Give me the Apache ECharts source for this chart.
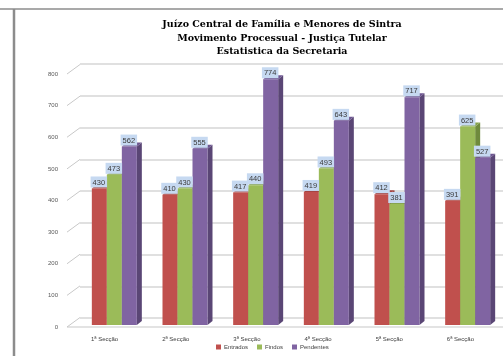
<!DOCTYPE html>
<html>
<head>
<meta charset="utf-8">
<script src="https://cdn.jsdelivr.net/npm/echarts@6/dist/echarts.min.js"></script>
<style>
  html, body { margin: 0; padding: 0; background: #ffffff; }
  #chart { width: 503px; height: 356px; }
</style>
</head>
<body>
<div id="chart"></div>
<script>
// Categories, series and axis ticks
const categories = ['1ª Secção', '2ª Secção', '3ª Secção', '4ª Secção', '5ª Secção', '6ª Secção'];
const entrados  = [430, 410, 417, 419, 412, 391];
const findos    = [473, 430, 440, 493, 381, 625];
const pendentes = [562, 555, 774, 643, 717, 527];
const seriesNames = ['Entrados', 'Findos', 'Pendentes'];
const yTicks = [0, 100, 200, 300, 400, 500, 600, 700, 800];

const FRONT = ['#c0504d', '#9bbb59', '#8064a2'];
const SIDE  = ['#8b3a38', '#6f8a3d', '#5a4675'];
const TOP   = ['#a54542', '#86a34b', '#6d5590'];

const BAR_W = 15;   // width of one bar's front face
const DEPTH_X = 5;  // 3D depth offset
const DEPTH_Y = 4;

function barRenderer(si) {
  return function (params, api) {
    const cat = api.value(0);
    const v = api.value(1);
    const top = api.coord([cat, v]);
    const base = api.coord([cat, 0]);
    const x0 = top[0] - 1.5 * BAR_W + si * BAR_W;
    const x1 = x0 + BAR_W;
    return {
      type: 'group',
      children: [
        { type: 'polygon', shape: { points: [[x1, top[1]], [x1 + DEPTH_X, top[1] - DEPTH_Y], [x1 + DEPTH_X, base[1] - DEPTH_Y], [x1, base[1]]] },
          style: { fill: SIDE[si] } },
        { type: 'polygon', shape: { points: [[x0, top[1]], [x0 + DEPTH_X, top[1] - DEPTH_Y], [x1 + DEPTH_X, top[1] - DEPTH_Y], [x1, top[1]]] },
          style: { fill: TOP[si] } },
        { type: 'rect', shape: { x: x0, y: top[1], width: BAR_W, height: base[1] - top[1] },
          style: { fill: FRONT[si] } },
        { type: 'text', z2: 100,
          style: { text: String(v), x: x0 + BAR_W / 2 - 0.5, y: top[1] - 1, align: 'center', verticalAlign: 'bottom',
                   fill: '#3a3a3a', font: '7.5px "Liberation Sans"', backgroundColor: '#c6d9f1', padding: [2, 2, 1, 2] } }
      ]
    };
  };
}

// Diagonal ticks between the value labels and the back wall, plus the floor edge
function frameRenderer(params, api) {
  const v = api.value(0);
  const p = api.coord([0, v]);
  const x = params.coordSys.x - 2;
  const y = p[1];
  const children = [
    { type: 'line', shape: { x1: x, y1: y, x2: x + 13, y2: y - 9.5 }, style: { stroke: '#c8c8c8', lineWidth: 1 } }
  ];
  if (v === 0) {
    children.push({ type: 'line', shape: { x1: x, y1: y, x2: 510, y2: y }, style: { stroke: '#c8c8c8', lineWidth: 1.2 } });
  }
  return { type: 'group', children: children };
}

const chart = echarts.init(document.getElementById('chart'), null, { renderer: 'canvas' });

const barSeries = [entrados, findos, pendentes].map(function (arr, si) {
  return {
    name: seriesNames[si],
    type: 'custom',
    xAxisIndex: 0,
    yAxisIndex: 0,
    itemStyle: { color: FRONT[si] },
    renderItem: barRenderer(si),
    data: arr.map(function (v, i) { return [i, v]; }),
    z: 3
  };
});

chart.setOption({
  animation: false,
  color: FRONT,
  title: {
    text: 'Juízo Central de Família e Menores de Sintra\nMovimento Processual - Justiça Tutelar\nEstatistica da Secretaria',
    left: 277,
    top: 13,
    textAlign: 'center',
    textStyle: { fontFamily: 'DejaVu Serif', fontWeight: 'bold', fontSize: 9.5, lineHeight: 13.5, color: '#000000' }
  },
  legend: {
    data: seriesNames,
    bottom: 1,
    left: 211,
    itemWidth: 5,
    itemHeight: 5,
    itemGap: 9,
    icon: 'rect',
    textStyle: { fontSize: 6, color: '#404040', fontFamily: 'Liberation Sans', padding: [0, 0, 0, -2] }
  },
  graphic: [
    { type: 'line', shape: { x1: 0, y1: 9, x2: 503, y2: 9 }, style: { stroke: '#8c8c8c', lineWidth: 1.5 } },
    { type: 'line', shape: { x1: 14, y1: 9, x2: 14, y2: 356 }, style: { stroke: '#8c8c8c', lineWidth: 2.5 } }
  ],
  grid: [
    // bars
    { left: 79, top: 71, width: 429, height: 254 },
    // back wall
    { left: 80, top: 64, width: 440, height: 254 },
    // front labels
    { left: 69, top: 74, width: 427, height: 253 }
  ],
  xAxis: [
    { type: 'category', gridIndex: 0, data: categories, show: false },
    { type: 'value', gridIndex: 1, show: false },
    { type: 'category', gridIndex: 2, data: categories,
      axisLine: { show: false }, axisTick: { show: false },
      axisLabel: { fontSize: 6, color: '#404040', fontFamily: 'Liberation Sans', margin: 9 } }
  ],
  yAxis: [
    { type: 'value', gridIndex: 0, min: 0, max: 800, interval: 100, show: false },
    { type: 'value', gridIndex: 1, min: 0, max: 800, interval: 100,
      axisLine: { show: false }, axisTick: { show: false }, axisLabel: { show: false },
      splitLine: { show: true, lineStyle: { color: '#d6d6d6', width: 1.5 } } },
    { type: 'value', gridIndex: 2, min: 0, max: 800, interval: 100,
      axisLine: { show: false }, axisTick: { show: false }, splitLine: { show: false },
      axisLabel: { fontSize: 6, color: '#595959', fontFamily: 'Liberation Sans', margin: 11 } }
  ],
  series: [
    {
      type: 'custom',
      xAxisIndex: 2,
      yAxisIndex: 2,
      silent: true,
      renderItem: frameRenderer,
      data: yTicks.map(function (t) { return [t]; }),
      encode: { y: 0 },
      z: 1
    }
  ].concat(barSeries)
});
</script>
</body>
</html>
